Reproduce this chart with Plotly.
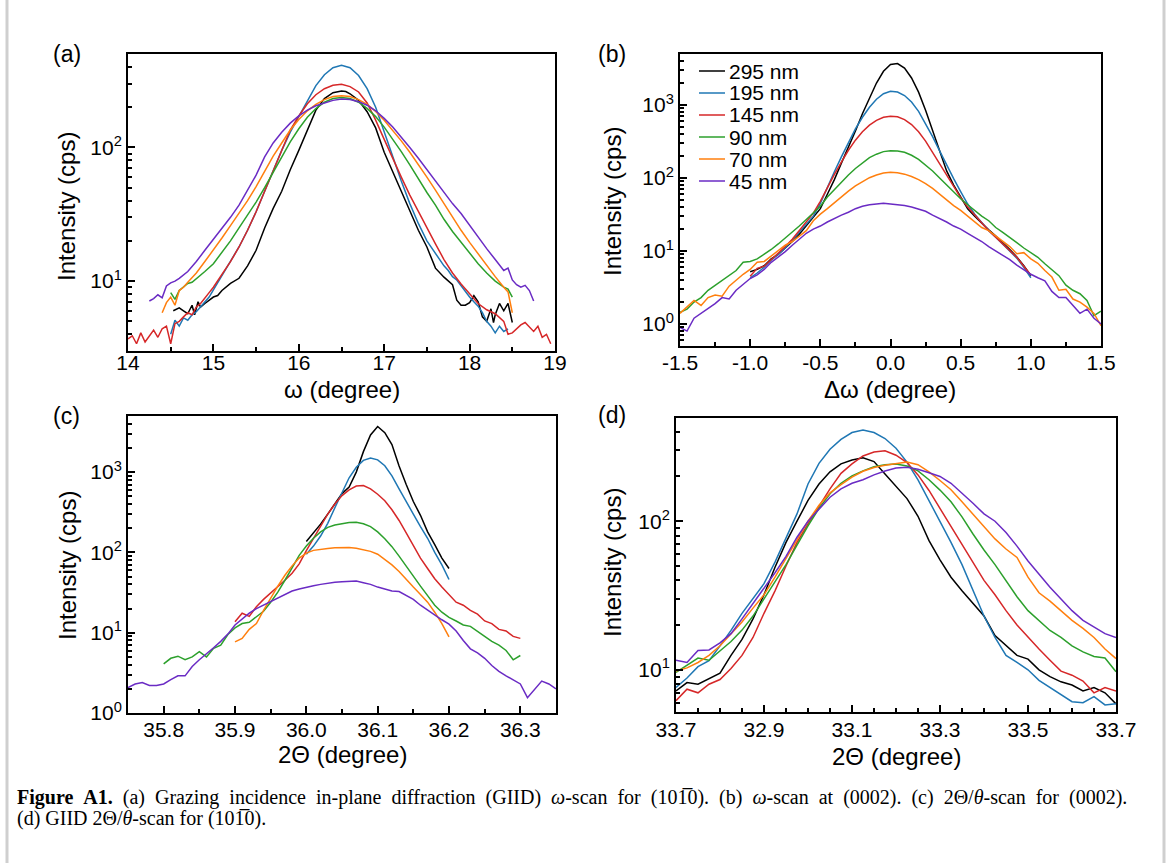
import numpy as np
import plotly.graph_objects as go

W, H = 1170, 863

NAMES = ["295 nm", "195 nm", "145 nm", "90 nm", "70 nm", "45 nm"]
COLORS = ["#000000", "#1f77b4", "#d62728", "#2ca02c", "#ff7f0e", "#6a2bc4"]

# ---------------- Panel (a): omega scan (10-10), GIID ----------------
A_X_295 = [14.53, 14.6, 14.65, 14.7, 14.75, 14.78, 14.82, 14.85, 14.9,
           15.0, 15.05, 15.1, 15.2, 15.3, 15.4, 15.5, 15.6, 15.7, 15.8, 15.9,
           16.0, 16.1, 16.2, 16.3, 16.4, 16.5, 16.55, 16.6, 16.7, 16.8, 16.9,
           17.0, 17.1, 17.2, 17.3, 17.4, 17.5, 17.6, 17.7, 17.8,
           17.85, 17.9, 17.95, 18.0, 18.05, 18.1, 18.15, 18.2, 18.25, 18.28, 18.3, 18.35, 18.4, 18.45, 18.5]
A_Y_295 = [6.0, 6.3, 6.0, 5.7, 6.6, 5.6, 7.0, 6.4, 6.8,
           7.6, 7.8, 8.5, 9.6, 10.5, 13, 17, 25, 35, 47, 68,
           95, 135, 190, 232, 257, 264, 262, 252, 225, 185, 140,
           92, 66, 46, 33, 24, 18, 12.5, 10.7, 9.4,
           7.2, 6.6, 6.6, 6.9, 7.8, 7.0, 5.4, 5.0, 6.2, 4.9, 5.6, 6.8, 6.0, 6.8, 4.9]

A_X_195 = [14.5, 14.55, 14.6, 14.65, 14.7, 14.75, 14.8, 14.85, 14.9, 14.95, 15.0, 15.05, 15.1,
           15.2, 15.3, 15.4, 15.5, 15.6, 15.7, 15.8, 15.9, 16.0, 16.1, 16.2, 16.3, 16.4, 16.5,
           16.6, 16.7, 16.8, 16.9, 17.0, 17.1, 17.2, 17.3, 17.4, 17.5, 17.6, 17.7,
           17.75, 17.8, 17.85, 17.9, 17.95, 18.0, 18.05, 18.1, 18.15, 18.2, 18.25, 18.3, 18.35, 18.4, 18.45]
A_Y_195 = [4.0, 5.1, 4.6, 5.3, 5.1, 5.6, 5.9, 6.4, 7.0, 7.6, 8.6, 9.7, 11.0,
           14, 18, 24, 33, 47, 67, 95, 130, 170, 225, 290, 350, 395, 411,
           395, 345, 275, 200, 130, 85, 56, 38, 27, 20, 16, 13,
           12, 10.8, 10.2, 9.2, 8.3, 7.6, 7.0, 6.5, 5.8, 5.0, 4.6, 4.1, 4.6, 4.2, 4.4]

A_X_145 = [14.0, 14.05, 14.1, 14.15, 14.2, 14.25, 14.3, 14.35, 14.4, 14.45, 14.5, 14.55, 14.6,
           14.65, 14.7, 14.75, 14.8, 14.85, 14.9, 14.95, 15.0, 15.05, 15.1,
           15.2, 15.3, 15.4, 15.5, 15.6, 15.7, 15.8, 15.9, 16.0, 16.1, 16.2, 16.3, 16.4, 16.5,
           16.6, 16.7, 16.8, 16.9, 17.0, 17.1, 17.2, 17.3, 17.4, 17.5, 17.6, 17.7, 17.8, 17.9, 18.0,
           18.1, 18.2, 18.3, 18.4, 18.45, 18.5, 18.55, 18.6, 18.65, 18.7, 18.75, 18.8, 18.85, 18.9, 18.95]
A_Y_145 = [3.7, 3.9, 3.4, 4.1, 3.5, 3.9, 4.3, 3.8, 4.4, 4.6, 3.4, 4.8, 5.0,
           5.4, 5.8, 5.6, 6.4, 6.8, 7.4, 8.2, 9.0, 10.0, 11.2,
           14, 18, 24, 33, 47, 68, 97, 135, 172, 212, 248, 275, 292, 297,
           285, 260, 215, 160, 115, 82, 60, 44, 33, 25, 19, 14.5, 11.5, 9.5, 8.0,
           6.8, 6.1, 5.7, 5.0, 4.0, 4.1, 4.4, 4.7, 4.9, 4.5, 4.2, 4.6, 3.8, 4.0, 3.4]

A_X_90 = [14.5, 14.55, 14.6, 14.65, 14.7, 14.75, 14.8,
          14.9, 15.0, 15.1, 15.2, 15.3, 15.4, 15.5, 15.6, 15.7, 15.8, 15.9, 16.0, 16.1, 16.2,
          16.3, 16.4, 16.5, 16.6, 16.7, 16.8, 16.9, 17.0, 17.1, 17.2, 17.3, 17.4, 17.5, 17.6,
          17.7, 17.8, 17.9, 18.0, 18.1, 18.2, 18.3, 18.4, 18.45, 18.5]
A_Y_90 = [8.2, 7.3, 8.5, 9.0, 9.6, 9.8, 10.4,
          11.8, 13.5, 16.5, 20, 25, 31, 39, 50, 65, 86, 110, 138, 168, 195,
          218, 232, 236, 232, 218, 196, 170, 142, 116, 93, 74, 58, 46, 37,
          29, 23.5, 19.5, 16, 13.5, 11.5, 10, 9.0, 8.7, 7.6]

A_X_70 = [14.4, 14.45, 14.5, 14.55, 14.6, 14.65, 14.7,
          14.8, 14.9, 15.0, 15.1, 15.2, 15.3, 15.4, 15.5, 15.6, 15.7, 15.8, 15.9, 16.0, 16.1,
          16.2, 16.3, 16.4, 16.5, 16.6, 16.7, 16.8, 16.9, 17.0, 17.1, 17.2, 17.3, 17.4, 17.5,
          17.6, 17.7, 17.8, 17.9, 18.0, 18.1, 18.2, 18.3, 18.4, 18.45, 18.5]
A_Y_70 = [5.8, 6.9, 7.6, 6.6, 8.5, 9.0, 9.8,
          11.5, 14, 17, 21, 26, 32, 40, 51, 66, 86, 108, 135, 162, 188,
          210, 228, 240, 244, 240, 228, 210, 186, 160, 135, 112, 92, 75, 60,
          48, 38, 30, 24, 19.5, 16, 13, 10.8, 9.0, 8.3, 5.8]

A_X_45 = [14.25, 14.3, 14.35, 14.4, 14.45, 14.5, 14.55,
          14.6, 14.7, 14.8, 14.9, 15.0, 15.1, 15.2, 15.3, 15.4, 15.5, 15.6, 15.7, 15.8, 15.9,
          16.0, 16.1, 16.2, 16.3, 16.4, 16.5, 16.6, 16.7, 16.8, 16.9, 17.0, 17.1, 17.2, 17.3,
          17.4, 17.5, 17.6, 17.7, 17.8, 17.9, 18.0, 18.1, 18.2, 18.3, 18.4,
          18.45, 18.5, 18.55, 18.6, 18.65, 18.7, 18.75]
A_Y_45 = [7.1, 7.4, 7.9, 7.5, 9.2, 9.7, 10.0,
          10.5, 11.8, 14.0, 17.0, 20.5, 25, 30, 37, 48, 62, 85, 108, 130, 152,
          172, 190, 205, 216, 225, 230, 228, 220, 207, 188, 165, 142, 120, 100,
          83, 68, 56, 46, 38, 32, 26, 21.5, 17.5, 14.5, 12,
          12.5, 10.2, 9.4, 9.0, 9.3, 8.5, 7.1]

# ---------------- Panel (b): omega scan (0002) ----------------
B_X_WIDE = [-1.5, -1.45, -1.4, -1.35, -1.3, -1.25, -1.2, -1.15, -1.1, -1.05,
            -1.0, -0.95, -0.9, -0.85, -0.8, -0.75, -0.7, -0.65, -0.6, -0.55,
            -0.5, -0.45, -0.4, -0.35, -0.3, -0.25, -0.2, -0.15, -0.1, -0.05,
            0.0, 0.05, 0.1, 0.15, 0.2, 0.25, 0.3, 0.35, 0.4, 0.45,
            0.5, 0.55, 0.6, 0.65, 0.7, 0.75, 0.8, 0.85, 0.9, 0.95,
            1.0, 1.05, 1.1, 1.15, 1.2, 1.25, 1.3, 1.35, 1.4, 1.45, 1.5]
B_X_NARROW = [-1.0, -0.95, -0.9, -0.85, -0.8, -0.75, -0.7, -0.65, -0.6, -0.55,
              -0.5, -0.45, -0.4, -0.35, -0.3, -0.25, -0.2, -0.15, -0.1, -0.05,
              0.0, 0.05, 0.1, 0.15, 0.2, 0.25, 0.3, 0.35, 0.4, 0.45,
              0.5, 0.55, 0.6, 0.65, 0.7, 0.75, 0.8, 0.85, 0.9, 0.95, 1.0]
B_Y_295 = [5.2, 5.6, 6.3, 7.8, 9.0, 11, 13.5, 17, 22, 29,
           38, 60, 95, 160, 260, 440, 760, 1250, 2000, 2900,
           3600, 3700, 3200, 2350, 1500, 850, 450, 230, 125, 80,
           54, 38, 30, 24, 19.5, 16, 13, 10.5, 8.3, 6.3, 4.6]
B_Y_195 = [4.3, 5.0, 6.0, 7.5, 9.0, 11, 14, 18, 23, 30,
           45, 75, 122, 195, 310, 470, 680, 930, 1200, 1430,
           1540, 1510, 1350, 1100, 820, 560, 370, 235, 150, 98,
           65, 44, 32, 24.5, 19, 15.5, 12.5, 10, 8, 6.0, 4.3]
B_Y_145 = [4.5, 5.8, 6.2, 7.6, 9.5, 11.5, 14.5, 19, 25, 33,
           48, 75, 112, 165, 240, 330, 430, 530, 615, 680,
           700, 690, 630, 540, 430, 320, 225, 155, 108, 75,
           54, 40, 31, 24, 19, 15.5, 12.5, 10.2, 8.2, 6.2, 4.7]
B_Y_90 = [1.45, 1.6, 2.0, 2.3, 2.9, 3.4, 4.0, 4.6, 5.4, 7.0,
          7.2, 7.8, 9.0, 10.5, 12.5, 15, 18, 22, 27, 33,
          41, 55, 70, 88, 110, 135, 162, 190, 212, 230,
          237, 235, 225, 205, 180, 152, 125, 100, 80, 63,
          52, 43, 36, 30, 26, 21, 18, 15.5, 13, 11,
          9.6, 8.2, 6.7, 5.6, 4.6, 3.4, 2.9, 2.6, 2.1, 1.3, 1.5]
B_Y_70 = [1.4, 1.7, 2.1, 1.8, 2.3, 2.5, 2.4, 3.3, 4.0, 4.8,
          5.6, 7.0, 7.2, 8.5, 10, 12, 13.5, 16, 19, 26,
          32, 38, 46, 55, 66, 78, 90, 101, 110, 117,
          120, 118, 113, 105, 95, 84, 72, 60, 50, 42,
          36, 30, 25, 21, 19, 16, 13.5, 11.5, 9.2, 9.5,
          7.8, 6.8, 5.4, 4.4, 2.9, 3.0, 2.2, 2.0, 1.7, 1.4, 0.95]
B_Y_45 = [0.9, 0.8, 1.2, 1.4, 1.6, 1.9, 2.3, 2.2, 2.9, 3.5,
          4.2, 4.7, 5.6, 7.0, 8.2, 9.8, 12, 14.5, 17.5, 20,
          22, 25, 28, 31, 34, 38, 41, 43, 44, 45,
          44, 43.5, 42, 40, 37.5, 35, 31, 28, 25, 22,
          20, 17.5, 15.5, 13.5, 11.5, 10, 8.8, 7.6, 6.4, 5.5,
          4.8, 4.3, 3.9, 2.8, 2.3, 2.3, 1.8, 1.4, 1.6, 1.2, 1.0]

# ---------------- Panel (c): 2Theta/theta scan (0002) ----------------
C_X_295 = [36.00, 36.01, 36.02, 36.03, 36.04, 36.05, 36.06, 36.07, 36.08, 36.09, 36.10,
           36.11, 36.12, 36.13, 36.14, 36.15, 36.16, 36.17, 36.18, 36.19, 36.20]
C_Y_295 = [137, 175, 225, 300, 400, 540, 650, 1000, 1800, 2900, 3700,
           3100, 2200, 1190, 700, 430, 290, 180, 125, 85, 63]
C_X_195 = C_X_295
C_Y_195 = [95, 120, 160, 230, 360, 560, 850, 1150, 1400, 1500, 1420,
           1200, 900, 620, 440, 300, 210, 150, 100, 70, 46]
C_X_145 = [35.90, 35.91, 35.92, 35.93, 35.94, 35.95, 35.96, 35.97, 35.98, 35.99,
           36.00, 36.01, 36.02, 36.03, 36.04, 36.05, 36.06, 36.07, 36.08, 36.09,
           36.10, 36.11, 36.12, 36.13, 36.14, 36.15, 36.16, 36.17, 36.18, 36.19,
           36.20, 36.21, 36.22, 36.23, 36.24, 36.25, 36.26, 36.27, 36.28, 36.29, 36.30]
C_Y_145 = [13.7, 17.5, 16, 21, 26, 31, 38, 45, 55, 72,
           105, 150, 215, 300, 400, 510, 600, 670, 680, 620,
           530, 440, 340, 250, 175, 120, 85, 63, 47, 37,
           30, 24, 22, 19, 17, 14, 13, 11, 10.5, 9.0, 8.5]
C_X_90 = [35.80, 35.81, 35.82, 35.83, 35.84, 35.85, 35.86, 35.87, 35.88, 35.89] + C_X_145
C_Y_90 = [4.1, 4.8, 5.1, 4.6, 5.0, 5.8, 5.0, 6.4, 7.0, 9.5,
          11.5, 13, 13.5, 16, 18.5, 24, 32, 45, 65, 92,
          120, 150, 180, 205, 220, 230, 236, 238, 228, 210,
          180, 148, 118, 90, 67, 50, 38, 29, 22, 18,
          15.5, 14, 12.5, 12, 10.5, 9.0, 7.8, 7.0, 6.0, 4.6, 5.2]
C_X_70 = C_X_145[:31]
C_Y_70 = [7.7, 8.5, 11, 13, 19, 27, 38, 52, 68, 85,
          98, 106, 110, 112, 114, 115, 115, 113, 108, 103,
          95, 82, 70, 58, 46, 37, 30, 24, 18, 13, 8.9]
C_X_45 = ([35.75, 35.76, 35.77, 35.78, 35.79] + C_X_90 +
          [36.31, 36.32, 36.33, 36.34, 36.35])
C_Y_45 = [2.07, 2.3, 2.4, 2.2, 2.2, 2.3, 2.6, 2.9, 2.9, 3.8,
          4.6, 5.4, 6.5, 7.8, 9.6, 12.5, 15, 17.5, 20, 22,
          24.5, 27, 30, 33, 35, 37, 38.5, 40, 41.5, 42.5,
          43, 43.5, 44, 42, 40, 37, 35, 33, 32.5, 29,
          26, 22, 19, 16.5, 14.5, 12.8, 10.5, 8.0, 6.3, 5.6,
          4.8, 3.9, 3.3, 2.9, 2.6, 2.3, 1.55, 2.0, 2.5, 2.3, 2.0]

# ---------------- Panel (d): GIID 2Theta/theta scan (10-10) ----------------
D_X = [32.700, 32.725, 32.750, 32.775, 32.800, 32.825, 32.850, 32.875, 32.900, 32.925,
       32.950, 32.975, 33.000, 33.025, 33.050, 33.075, 33.100, 33.125, 33.150, 33.175,
       33.200, 33.225, 33.250, 33.275, 33.300, 33.325, 33.350, 33.375, 33.400, 33.425,
       33.450, 33.475, 33.500, 33.525, 33.550, 33.575, 33.600, 33.625, 33.650, 33.675, 33.700]
D_Y_295 = [7.2, 8.2, 8.0, 8.7, 9.5, 12.5, 16, 22, 32, 49,
           72, 100, 138, 178, 215, 243, 258, 267, 252, 208,
           172, 142, 108, 74, 55, 42, 34, 28, 23, 17,
           14.5, 12.5, 11.8, 10, 9.0, 8.3, 7.9, 7.2, 7.6, 7.0, 5.9]
D_Y_195 = [7.6, 8.8, 10.5, 11.5, 14.5, 18.4, 24, 30, 38, 53,
           78, 112, 178, 245, 305, 355, 395, 411, 395, 360,
           310, 250, 190, 138, 100, 72, 51, 34, 23, 16.5,
           12.5, 11.2, 10, 8.5, 7.6, 6.8, 6.1, 6.0, 6.6, 5.8, 5.9]
D_Y_145 = [6.2, 7.4, 7.0, 8.0, 8.6, 10.2, 12.5, 16.5, 24, 34,
           50, 72, 96, 125, 165, 210, 243, 275, 292, 298,
           278, 248, 205, 161, 122, 92, 70, 53, 40, 32,
           25, 20, 16.5, 13.8, 11.6, 9.8, 9.2, 8.4, 7.0, 7.6, 7.2]
D_Y_90 = [9.6, 10.8, 12.0, 11.6, 13.5, 15.5, 18.5, 23, 30, 39,
          51, 69, 93, 122, 153, 180, 202, 218, 233, 240,
          243, 235, 218, 190, 162, 135, 107, 82, 64, 51,
          40, 31, 25, 21.5, 18.4, 16.5, 14.5, 13.2, 12.3, 12.0, 9.7]
D_Y_70 = [9.8, 10.3, 11.2, 12.5, 14.5, 17.5, 21, 26, 32, 42,
          56, 76, 100, 128, 155, 176, 198, 217, 230, 238,
          244, 250, 240, 215, 188, 163, 135, 112, 93, 76,
          65, 57, 42, 33, 29, 25, 21.5, 19, 16.5, 13.8, 11.9]
D_Y_45 = [11.6, 11.2, 13.5, 13.6, 15.2, 17.5, 22, 28, 35, 45,
          58, 78, 100, 120, 145, 165, 180, 190, 205, 218,
          228, 231, 224, 212, 200, 180, 155, 132, 112, 100,
          84, 68, 54, 44, 36, 30, 25, 21.5, 19.5, 17.5, 16.5]

# tick labels
A_XTICKS = [14, 15, 16, 17, 18, 19]
B_XTICKS = [-1.5, -1.0, -0.5, 0.0, 0.5, 1.0, 1.5]
B_XTICKTEXT = ["-1.5", "-1.0", "-0.5", "0.0", "0.5", "1.0", "1.5"]
C_XTICKS = [35.8, 35.9, 36.0, 36.1, 36.2, 36.3]
D_XTICKS = [32.7, 32.9, 33.1, 33.3, 33.5, 33.7]
D_XTICKTEXT = ["33.7", "32.9", "33.1", "33.3", "33.5", "33.7"]

PANELS = {
    "a": [(A_X_295, A_Y_295), (A_X_195, A_Y_195), (A_X_145, A_Y_145),
          (A_X_90, A_Y_90), (A_X_70, A_Y_70), (A_X_45, A_Y_45)],
    "b": [(B_X_NARROW, B_Y_295), (B_X_NARROW, B_Y_195), (B_X_NARROW, B_Y_145),
          (B_X_WIDE, B_Y_90), (B_X_WIDE, B_Y_70), (B_X_WIDE, B_Y_45)],
    "c": [(C_X_295, C_Y_295), (C_X_195, C_Y_195), (C_X_145, C_Y_145),
          (C_X_90, C_Y_90), (C_X_70, C_Y_70), (C_X_45, C_Y_45)],
    "d": [(D_X, D_Y_295), (D_X, D_Y_195), (D_X, D_Y_145),
          (D_X, D_Y_90), (D_X, D_Y_70), (D_X, D_Y_45)],
}
AXES = {"a": ("x", "y"), "b": ("x2", "y2"), "c": ("x3", "y3"), "d": ("x4", "y4")}

fig = go.Figure()
for key, series in PANELS.items():
    xa, ya = AXES[key]
    for i, (xs, ys) in enumerate(series):
        fig.add_trace(go.Scatter(x=xs, y=ys, mode="lines", name=NAMES[i],
                                 line=dict(color=COLORS[i], width=1.5),
                                 xaxis=xa, yaxis=ya, showlegend=False))

FONT = "Liberation Sans, Arial, sans-serif"
TICKFONT = dict(family=FONT, size=21, color="black")


def px_x(p):
    return p / W


def px_y(p):
    return 1 - p / H


def sup(e):
    return "10<sup>%d</sup>" % e


def log_minor(lo, hi, emin, emax):
    vals = []
    for e in range(emin, emax + 1):
        for m in range(2, 10):
            v = m * 10.0 ** e
            if lo <= v <= hi:
                vals.append(v)
    return vals


def base_axis():
    return dict(showline=True, linewidth=2, linecolor="black", mirror=True,
                ticks="inside", ticklen=7, tickwidth=1.5, tickcolor="black",
                showgrid=False, zeroline=False, tickfont=TICKFONT, automargin=False)


# domains from the reference (pixels)
DOM = {
    "a": ((128, 555), (54, 351)),
    "b": ((680, 1101), (54, 346)),
    "c": ((128, 556), (416, 713)),
    "d": ((676, 1116), (418, 712)),
}
XSTANDOFF = {"a": -8, "b": -3, "c": -3, "d": -2}

YR = {"a": (3, 500), "b": (0.5, 5000), "c": (1, 5000), "d": (5.2, 495)}
YMAJ = {"a": [10, 100], "b": [1, 10, 100, 1000], "c": [1, 10, 100, 1000], "d": [10, 100]}
XCFG = {
    "a": dict(range=[14, 19], tickvals=A_XTICKS, ticktext=[str(v) for v in A_XTICKS],
              minor=[14.5, 15.5, 16.5, 17.5, 18.5]),
    "b": dict(range=[-1.5, 1.5], tickvals=B_XTICKS, ticktext=B_XTICKTEXT,
              minor=[-1.25, -0.75, -0.25, 0.25, 0.75, 1.25]),
    "c": dict(range=[35.75, 36.35], tickvals=C_XTICKS, ticktext=["%.1f" % v for v in C_XTICKS],
              minor=[35.85, 35.95, 36.05, 36.15, 36.25]),
    "d": dict(range=[32.7, 33.7], tickvals=D_XTICKS, ticktext=D_XTICKTEXT,
              minor=[32.75, 32.8, 32.85, 32.95, 33.0, 33.05, 33.15, 33.2, 33.25,
                     33.35, 33.4, 33.45, 33.55, 33.6, 33.65]),
}

layout = {}
for idx, key in enumerate(["a", "b", "c", "d"]):
    suffix = "" if idx == 0 else str(idx + 1)
    (x0, x1), (y0, y1) = DOM[key]
    xc = XCFG[key]
    xa = base_axis()
    xa.update(domain=[px_x(x0), px_x(x1)], range=xc["range"], tickmode="array",
              tickvals=xc["tickvals"], ticktext=xc["ticktext"],
              anchor="y" + suffix, ticklabelstandoff=XSTANDOFF[key],
              minor=dict(ticks="inside", ticklen=4, tickwidth=1.5, tickcolor="black",
                         tickmode="array", tickvals=xc["minor"], showgrid=False))
    lo, hi = YR[key]
    ya = base_axis()
    ya.update(type="log", domain=[px_y(y1), px_y(y0)],
              range=[np.log10(lo), np.log10(hi)], tickmode="array",
              tickvals=YMAJ[key], ticktext=[sup(int(round(np.log10(v)))) for v in YMAJ[key]],
              anchor="x" + suffix,
              minor=dict(ticks="inside", ticklen=4, tickwidth=1.5, tickcolor="black",
                         tickmode="array", tickvals=log_minor(lo, hi, -1, 3), showgrid=False))
    layout["xaxis" + suffix] = xa
    layout["yaxis" + suffix] = ya

annotations = []
TITLE_FONT = dict(family=FONT, size=24, color="black")
# panel labels
for lab, (cx, cy) in {"(a)": (67, 54), "(b)": (612, 54), "(c)": (66, 416), "(d)": (612, 415)}.items():
    annotations.append(dict(x=px_x(cx), y=px_y(cy), xref="paper", yref="paper", text=lab,
                            showarrow=False, font=dict(family=FONT, size=23, color="black"),
                            xanchor="center", yanchor="middle"))
# y titles
for (cx, cy) in [(67, 207), (612, 202), (67, 566), (612, 563)]:
    annotations.append(dict(x=px_x(cx), y=px_y(cy), xref="paper", yref="paper",
                            text="Intensity (cps)", textangle=-90, showarrow=False,
                            font=TITLE_FONT, xanchor="center", yanchor="middle"))
# x titles
for txt, (cx, cy) in [("ω (degree)", (342, 389)), ("Δω (degree)", (890, 389)),
                      ("2Θ (degree)", (342, 754)), ("2Θ (degree)", (896, 756))]:
    annotations.append(dict(x=px_x(cx), y=px_y(cy), xref="paper", yref="paper", text=txt,
                            showarrow=False, font=TITLE_FONT, xanchor="center", yanchor="middle"))

shapes = []
# custom legend inside panel (b)
for i, name in enumerate(NAMES):
    yy = 71 + 22 * i
    shapes.append(dict(type="line", xref="paper", yref="paper",
                       x0=px_x(699), x1=px_x(725), y0=px_y(yy), y1=px_y(yy),
                       line=dict(color=COLORS[i], width=1.5)))
    annotations.append(dict(x=px_x(727), y=px_y(yy), xref="paper", yref="paper", text=name,
                            showarrow=False, font=dict(family=FONT, size=21, color="black"),
                            xanchor="left", yanchor="middle"))

# caption (first line is justified in the reference -> slightly wider word gaps)
G = " \u00a0"
CAP1 = G.join(["<b>Figure", "A1.</b>", "(a)", "Grazing", "incidence", "in-plane", "diffraction",
               "(GIID)", "<i>ω</i>-scan", "for", "(101\u03050).", "(b)", "<i>ω</i>-scan", "at",
               "(0002).", "(c)", "2Θ/<i>θ</i>-scan", "for", "(0002)."])
CAP2 = "(d) GIID 2Θ/<i>θ</i>-scan for (101\u03050)."
CAPFONT = dict(family="Liberation Serif, Times New Roman, serif", size=20, color="black")
annotations.append(dict(x=px_x(15), y=px_y(797), xref="paper", yref="paper", text=CAP1,
                        showarrow=False, font=CAPFONT, xanchor="left", yanchor="middle"))
annotations.append(dict(x=px_x(15), y=px_y(818), xref="paper", yref="paper", text=CAP2,
                        showarrow=False, font=CAPFONT, xanchor="left", yanchor="middle"))

# light grey page border lines
for bx in (7, 1164):
    shapes.append(dict(type="line", xref="paper", yref="paper", x0=px_x(bx), x1=px_x(bx),
                       y0=0, y1=1, line=dict(color="#cfcfcf", width=3)))

fig.update_layout(template="none", width=W, height=H, autosize=False,
                  margin=dict(l=0, r=0, t=0, b=0, pad=0),
                  paper_bgcolor="white", plot_bgcolor="white",
                  showlegend=False, annotations=annotations, shapes=shapes,
                  font=dict(family=FONT, color="black"), **layout)

fig.write_html("out.html")
